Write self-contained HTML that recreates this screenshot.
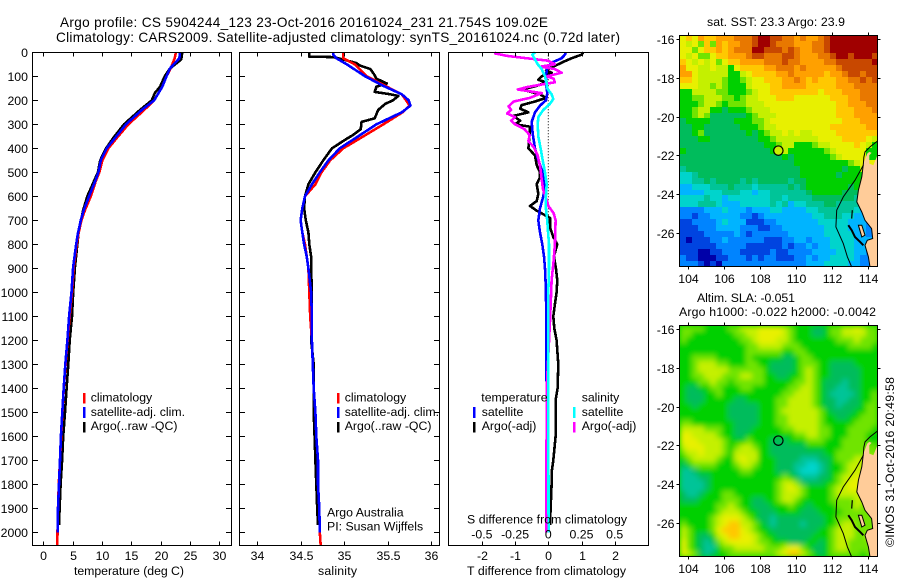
<!DOCTYPE html>
<html lang="en">
<head>
<meta charset="utf-8">
<title>Argo profile 5904244</title>
<style>
html,body{margin:0;padding:0;background:#fff;width:900px;height:580px;overflow:hidden}
svg{display:block}
text{font-family:"Liberation Sans",sans-serif;font-size:12.3px;fill:#000}
.t{font-size:13.6px}
</style>
</head>
<body>
<svg id="chart" xmlns="http://www.w3.org/2000/svg" width="900" height="580" viewBox="0 0 900 580">
<defs>
<filter id="smooth" x="-5%" y="-5%" width="110%" height="110%"><feGaussianBlur stdDeviation="2.6"/></filter>
<clipPath id="slaClip"><rect x="679.5" y="325.5" width="198" height="231"/></clipPath>
</defs>
<rect x="0" y="0" width="900" height="580" fill="#fff"/>
<text class="t" x="60" y="27" textLength="488" lengthAdjust="spacing">Argo profile: CS 5904244_123 23-Oct-2016 20161024_231 21.754S 109.02E</text>
<text class="t" x="56" y="42" textLength="564" lengthAdjust="spacing">Climatology: CARS2009. Satellite-adjusted climatology: synTS_20161024.nc (0.72d later)</text>

<g id="p1"></g>
<g id="p2"></g>
<g id="p3"></g>
<g id="m1"></g>
<g id="m2"></g>

<text x="74" y="575" textLength="110" lengthAdjust="spacing">temperature (deg C)</text>
<text x="318" y="575" textLength="39" lengthAdjust="spacing">salinity</text>
<text x="467" y="575" textLength="159" lengthAdjust="spacing">T difference from climatology</text>
<text x="467" y="523.5" textLength="160" lengthAdjust="spacing">S difference from climatology</text>

<g>
<rect x="83" y="393" width="2.5" height="10.5" fill="#f00"/>
<rect x="83" y="407" width="2.5" height="11" fill="#00f"/>
<rect x="83" y="422" width="2.5" height="10.5" fill="#000"/>
<text x="90.7" y="401.7">climatology</text>
<text x="90.7" y="416">satellite-adj. clim.</text>
<text x="90.7" y="430.2">Argo(..raw -QC)</text>
</g>
<g>
<rect x="337" y="393" width="2.5" height="10.5" fill="#f00"/>
<rect x="337" y="407" width="2.5" height="11" fill="#00f"/>
<rect x="337" y="422" width="2.5" height="10.5" fill="#000"/>
<text x="344.7" y="401.7">climatology</text>
<text x="344.7" y="416">satellite-adj. clim.</text>
<text x="344.7" y="430.2">Argo(..raw -QC)</text>
<text x="327" y="516.7">Argo Australia</text>
<text x="327" y="530.7">PI: Susan Wijffels</text>
</g>
<g>
<text x="481.3" y="401.7">temperature</text>
<rect x="473" y="407" width="2.5" height="11" fill="#00f"/>
<rect x="473" y="422" width="2.5" height="10.5" fill="#000"/>
<text x="481.7" y="416">satellite</text>
<text x="481.7" y="430.2">Argo(-adj)</text>
<text x="581.7" y="401.7">salinity</text>
<rect x="573" y="407" width="2.5" height="11" fill="#0ff"/>
<rect x="573" y="422" width="2.5" height="10.5" fill="#f0f"/>
<text x="581.7" y="416">satellite</text>
<text x="581.7" y="430.2">Argo(-adj)</text>
</g>

<text x="707" y="26" textLength="138" lengthAdjust="spacing">sat. SST: 23.3 Argo: 23.9</text>
<text x="697" y="302" textLength="98" lengthAdjust="spacing">Altim. SLA: -0.051</text>
<text x="679" y="316" textLength="197" lengthAdjust="spacing">Argo h1000: -0.022 h2000: -0.0042</text>
<text transform="translate(894,547) rotate(-90)" textLength="170" lengthAdjust="spacing">©IMOS 31-Oct-2016 20:49:58</text>
</svg>

<script>
// ---- profile data ----
const depthTicks = [0,100,200,300,400,500,600,700,800,900,1000,1100,1200,1300,1400,1500,1600,1700,1800,1900,2000];
const tempTicks = [0,5,10,15,20,25,30];
const salTicks = [34,34.5,35,35.5,36];
const tDiffTicks = [-2,-1,0,1,2];
const sDiffTicks = [-0.5,-0.25,0,0.25,0.5];
const sDiffTickLabels = ['-0.5','-0.25','0','0.25','0.5'];

const climDepth = [0,25,67,100,143,200,240,300,358,400,450,500,540,600,657,700,755,800,893,1000,1100,1200,1300,1400,1500,1600,1700,1800,1900,2000,2055];
const climTemp = [22.6,22.4,21.7,21,20.3,18.9,17.2,14.5,12.5,11.1,10.05,9.55,8.9,8.1,7.1,6.5,6.0,5.7,5.2,4.9,4.5,4.15,3.8,3.5,3.25,3.05,2.85,2.65,2.5,2.42,2.38];
const satTemp = [23.3,23.2,21.6,21,20.3,18.9,16.8,14.1,12.2,10.8,9.8,9.4,8.8,7.8,6.9,6.4,5.9,5.6,5.1,4.8,4.4,4.1,3.75,3.47,3.24,3.0,2.85,2.67,2.5,2.44];
const argoTempDepth = [0,30,67,100,143,170,200,240,300,358,400,450,500,600,657,755,893,1000,1100,1200,1300,1400,1500,1600,1700,1800,1900,1970];
const argoTemp = [23.7,23.5,21.6,20.7,19.9,19.0,18.5,16.5,13.75,11.9,10.7,9.7,9.3,7.5,6.8,6,5.4,5.1,4.9,4.5,4.26,3.97,3.7,3.4,3.2,2.95,2.78,2.67];

const salDepth = [0,10,25,50,100,140,175,200,222,250,300,350,400,450,500,550,600,650,700,750,800,850,900,1000,1100,1200,1300,1400,1500,1600,1700,1800,1900,2000,2055];
const climSal = [34.99,34.99,34.99,35.12,35.26,35.47,35.66,35.71,35.75,35.67,35.45,35.22,34.99,34.84,34.74,34.67,34.55,34.52,34.5,34.52,34.55,34.57,34.59,34.6,34.61,34.63,34.64,34.65,34.67,34.68,34.7,34.7,34.715,34.72,34.73];
const satSal = [34.876,34.876,34.91,35.03,35.24,35.45,35.66,35.74,35.76,35.66,35.37,35.16,34.95,34.82,34.72,34.63,34.55,34.52,34.5,34.52,34.54,34.57,34.59,34.62,34.63,34.63,34.64,34.65,34.67,34.68,34.7,34.7,34.715,34.72];
const argoSalDepth = [0,18,20,30,45,55,70,90,110,130,143,165,175,182,200,215,240,275,290,320,345,360,400,450,500,550,600,650,700,750,800,850,900,1000,1100,1200,1300,1400,1500,1600,1700,1800,1900,1970];
const argoSal = [34.6,34.6,34.876,34.99,35.14,35.18,35.3,35.34,35.37,35.49,35.37,35.35,35.53,35.62,35.56,35.47,35.39,35.35,35.2,35.19,35.1,35.03,34.86,34.76,34.67,34.59,34.55,34.54,34.56,34.59,34.6,34.62,34.62,34.63,34.63,34.62,34.65,34.65,34.65,34.66,34.67,34.68,34.69,34.7];

const argoTDiffDepth = [0,10,25,40,60,75,85,100,115,125,140,155,175,190,205,220,235,250,265,285,300,310,330,350,400,430,470,500,520,550,590,620,640,660,690,730,770,800,850,900,950,1000,1050,1100,1150,1200,1300,1400,1450,1500,1600,1700,1750,1800,1900,1970];
const argoTDiff = [1.05,1.0,.7,.45,.15,-.07,.1,-.2,-.3,-.05,-.35,-.8,-.25,-.07,-.4,-.8,-.85,-.6,-1.05,-.85,-1,-.55,-.55,-.57,-.6,-.4,-.35,-.25,-.25,-.35,-.3,-.35,-.55,-.35,.05,.05,.15,.27,.17,.23,.27,.25,.2,.15,.18,.25,.3,.28,.22,.22,.22,.15,.1,.1,.07,.05];
const satTDiffDepth = [0,10,25,40,60,100,130,170,200,222,250,290,340,400,450,500,550,600,650,700,750,800,850,900,1000,1400,2000];
const satTDiff = [.53,.5,.4,.15,-.03,-.07,-.07,-.03,-.07,-.25,-.4,-.5,-.47,-.4,-.3,-.17,-.1,-.15,-.25,-.3,-.25,-.18,-.13,-.1,-.07,-.05,-.05];
const argoSDiffDepth = [0,5,15,25,35,50,60,70,85,100,110,125,135,145,155,170,190,205,225,240,255,270,285,300,320,345,370,395,430,480,530,570,620,640,670,700,800,870,950,1050,1120,1400,2000];
const argoSDiff = [-.39,-.4,-.31,-.16,0,.05,-.06,.05,.1,-.01,.04,.05,-.06,-.16,-.23,-.05,-.14,-.26,-.3,-.28,-.31,-.25,-.28,-.25,-.18,-.14,-.15,-.11,-.08,-.06,-.05,-.04,-.01,0,.04,.055,.05,.04,.025,.018,.013,-.012,-.015];
const satSDiffDepth = [0,10,30,50,70,100,130,150,175,195,215,240,270,300,350,400,450,500,550,600,650,700,800,900,1000,1200,1500,2000];
const satSDiff = [-.1,-.12,-.1,-.08,-.05,-.025,-.012,-.008,.025,.038,.012,-.038,-.075,-.08,-.075,-.058,-.042,-.025,-.012,-.018,-.018,-.008,.005,.005,0,0,0,.002];

// ---- map data ----
const lonTicks = [104,106,108,110,112,114];
const latTicks = [-16,-18,-20,-22,-24,-26];
const argoLon = 109.02;
const argoLat = -21.754;

// colour class of each grid cell, north to south
const sstGrid = [
[10,11,10,12,11,11,12,12,12,13,13,13,14,15,15,14,14,13,13,12,13,12,12,13,14,15,15,15,15,15,15,15,15],
[10,9,10,8,11,8,12,11,12,12,13,13,14,15,15,14,13,13,13,12,12,12,13,13,14,15,15,15,15,15,15,15,15],
[10,10,8,10,11,11,12,11,12,13,13,13,15,15,14,14,14,13,14,13,12,12,13,13,14,15,15,15,15,15,15,15,15],
[10,9,10,8,8,10,11,11,12,12,12,13,14,14,13,13,13,14,14,13,12,12,12,13,13,14,15,15,14,15,15,15,14],
[11,10,9,10,9,10,8,10,11,11,12,12,12,12,13,13,13,14,13,13,12,12,12,12,13,13,14,14,14,14,14,14,15],
[12,10,10,9,9,10,9,9,7,10,11,11,11,11,12,12,13,13,13,12,13,12,12,12,12,12,13,14,14,14,14,14,14],
[12,12,10,9,9,9,9,9,7,7,9,10,11,11,11,11,12,12,13,12,12,12,12,12,11,12,12,13,14,14,13,14,14],
[11,11,10,9,9,9,9,8,7,7,8,9,10,10,11,11,11,12,12,13,12,11,12,11,11,11,12,12,13,13,14,13,14],
[10,10,10,9,9,8,9,8,7,7,7,9,10,10,10,11,11,12,12,12,12,11,11,11,11,11,12,12,12,13,13,13,13],
[7,7,9,9,9,9,8,8,7,7,7,8,9,10,10,11,11,11,11,11,11,11,11,10,11,11,11,12,12,12,13,13,13],
[7,7,8,8,9,9,9,8,8,7,8,9,9,10,10,10,11,11,11,10,10,10,10,10,10,11,11,11,12,12,13,13,13],
[7,7,7,8,9,9,8,7,8,8,8,9,9,9,10,10,10,10,10,10,10,10,10,10,10,10,11,11,12,12,12,13,13],
[7,7,8,9,9,7,7,6,7,7,7,8,9,9,9,10,10,10,10,10,10,10,10,10,10,10,11,11,11,12,12,12,13],
[7,7,8,9,8,6,6,6,6,6,6,7,8,9,9,9,10,10,10,10,10,10,10,10,10,10,11,11,11,12,12,12,12],
[6,7,7,7,7,6,6,6,6,7,7,7,8,8,9,10,10,10,10,10,10,10,10,10,10,10,10,11,11,11,12,12,12],
[6,6,7,7,6,6,6,6,6,6,7,7,7,8,9,9,10,10,10,10,10,10,10,10,10,11,11,11,11,11,11,12,12],
[6,6,7,8,6,6,6,6,6,6,6,7,6,7,8,9,9,10,9,10,9,9,10,10,10,10,11,11,11,11,11,11,11],
[6,6,6,7,7,6,6,6,6,6,6,6,6,7,7,8,9,9,9,9,9,9,9,10,10,10,10,11,11,11,11,10,9],
[6,6,6,6,6,6,6,6,6,6,6,6,6,6,7,7,8,9,9,7,7,7,8,9,9,10,10,10,10,11,10,9,7],
[7,6,6,6,6,6,6,6,6,6,6,6,6,6,6,7,8,9,7,7,7,7,7,7,8,9,10,10,10,10,10,7,7],
[6,6,6,6,6,6,6,6,6,6,6,6,6,6,6,6,6,7,6,7,7,7,7,7,7,8,9,10,10,10,10,7,7],
[6,6,6,6,6,6,6,6,6,6,6,6,6,6,6,6,6,6,6,7,7,7,7,7,7,7,7,7,8,9,10,10,10],
[5,6,6,6,6,6,6,6,6,6,6,6,6,6,6,6,6,6,6,6,7,7,7,7,7,7,7,6,7,7,9,10,10],
[4,4,5,6,6,6,6,6,6,6,6,6,6,6,6,6,6,6,6,6,7,7,7,7,7,7,6,7,7,7,7,7,7],
[4,4,5,5,6,5,6,6,6,6,5,6,5,6,6,6,6,6,5,6,6,7,7,7,7,7,7,7,7,7,7,7,7],
[3,3,4,4,4,5,5,5,6,5,5,5,4,5,5,5,5,5,6,5,6,7,7,7,7,7,7,7,6,7,7,7,7],
[3,3,3,3,4,4,4,5,5,5,4,4,3,4,4,5,5,5,5,5,5,6,7,7,7,7,7,6,6,6,6,6,6],
[4,4,4,4,5,4,4,3,4,4,4,4,4,4,4,5,5,4,5,5,5,5,6,6,6,6,6,6,6,5,6,6,6],
[4,4,4,5,5,5,4,3,3,3,4,4,4,4,4,5,4,5,3,4,4,5,5,5,6,6,5,5,5,5,5,5,5],
[2,2,2,2,3,3,3,4,3,3,3,2,3,3,3,4,4,3,3,3,3,4,4,5,5,5,5,5,5,4,3,4,4],
[2,2,1,2,2,3,3,3,3,3,2,2,1,2,3,3,3,3,3,3,3,3,4,4,5,5,5,4,4,3,3,3,3],
[1,1,2,2,2,2,3,4,3,3,3,1,1,1,2,2,3,3,3,3,3,3,3,4,4,4,4,4,3,3,3,2,2],
[1,1,1,2,2,2,3,3,3,3,2,2,2,1,1,2,2,3,3,3,3,3,3,3,4,4,4,4,3,3,3,2,1],
[1,1,1,1,2,2,2,2,2,3,2,1,2,2,2,2,2,2,3,3,3,3,3,3,4,4,4,4,4,3,3,2,2],
[1,0,1,1,1,2,2,3,2,2,2,2,2,2,1,1,1,2,2,3,3,2,3,3,3,4,4,4,4,3,3,3,3],
[1,1,1,1,1,1,2,2,2,2,2,1,1,1,1,1,1,2,1,2,2,3,2,3,3,4,4,4,4,3,3,3,3],
[1,1,1,0,0,1,1,2,2,2,1,1,1,1,1,2,1,1,2,2,2,2,3,3,3,3,4,4,4,3,3,2,2],
[2,1,1,0,0,0,1,1,2,2,2,1,2,1,2,2,1,1,1,2,2,3,2,3,3,4,4,4,4,3,2,2,2],
[2,2,2,1,0,1,0,2,2,2,2,2,2,2,2,2,2,2,2,2,2,3,3,3,4,4,4,4,3,3,2,2,1]
];
const slaGrid = [
[8,8,8,8,7,7,7,7,8,8,9,9,9,10,10,10,10,9,8,7,7,7,6,6,7,8,8,9,9,10,9,8,8],
[8,8,7,7,7,7,7,7,7,8,8,9,9,10,10,10,10,9,8,7,7,7,6,6,7,8,8,9,9,9,9,8,8],
[8,7,7,7,7,7,7,7,7,7,8,8,9,10,10,10,9,9,8,7,7,7,7,7,7,7,8,8,8,9,8,8,8],
[7,7,7,7,7,7,7,7,7,7,7,8,8,9,9,9,9,8,8,8,7,7,7,7,7,7,7,7,8,8,8,8,7],
[7,7,7,7,7,7,7,7,7,7,7,8,8,8,8,8,8,7,7,8,8,7,7,7,7,7,7,7,7,7,7,7,7],
[7,7,8,8,8,8,7,7,7,7,7,8,7,7,7,7,7,6,6,7,8,8,7,7,7,7,7,7,7,7,7,7,7],
[7,7,8,9,9,9,8,8,7,7,7,8,8,7,7,6,6,6,6,7,8,8,8,7,7,6,6,6,6,7,7,7,7],
[7,7,8,9,9,9,9,9,8,8,8,8,8,8,7,6,6,6,6,7,8,9,8,7,7,6,6,6,6,6,7,7,7],
[7,7,8,8,9,9,9,8,8,8,9,9,8,8,7,7,6,6,7,7,8,9,8,7,7,6,6,6,6,6,7,7,7],
[7,7,7,8,8,9,8,8,7,8,8,8,8,8,7,7,7,7,7,8,8,9,8,7,6,6,6,5,6,6,7,7,7],
[7,6,6,7,7,8,8,7,7,7,8,8,7,7,7,7,7,7,8,8,9,9,8,7,6,6,5,5,6,6,7,7,7],
[7,6,6,6,7,7,8,7,7,7,7,7,7,7,7,7,7,8,8,9,9,9,8,7,6,5,5,5,5,6,7,7,8],
[7,6,6,6,7,7,7,7,7,6,6,7,7,7,7,7,8,8,9,9,9,9,8,7,6,6,5,5,6,6,7,7,8],
[7,7,6,7,7,7,7,7,6,6,6,6,6,7,7,7,8,8,9,9,9,9,8,7,6,6,5,6,6,6,7,8,8],
[7,7,7,7,7,7,7,7,6,6,6,6,6,7,7,7,8,9,9,9,9,9,9,8,7,6,6,6,6,7,7,8,8],
[7,7,7,7,7,7,7,7,6,6,6,6,6,7,7,7,8,8,9,9,9,9,9,8,7,7,6,6,7,7,8,8,8],
[8,8,7,7,7,7,7,7,7,6,6,6,6,7,7,7,8,8,9,9,9,9,9,8,7,7,7,7,7,8,8,8,8],
[9,9,9,9,8,8,8,7,7,6,6,6,7,7,7,7,7,8,8,9,9,9,9,8,8,7,7,7,8,8,8,8,7],
[10,10,9,9,9,9,8,7,7,6,6,7,7,7,7,7,7,7,7,8,8,9,9,8,8,7,7,7,8,8,8,7,7],
[10,10,10,9,9,9,9,8,7,7,7,8,7,7,7,6,6,6,7,7,7,8,8,8,7,7,7,8,8,8,8,7,7],
[9,10,10,10,9,9,9,8,7,8,9,9,8,7,7,6,6,6,6,6,6,7,7,7,7,7,7,8,8,8,8,8,8],
[8,9,9,10,9,9,9,8,7,9,9,9,9,7,7,6,6,6,6,6,6,6,6,6,7,7,8,8,8,8,8,8,8],
[7,8,9,9,9,9,8,7,7,9,10,9,9,7,7,7,6,6,6,6,5,5,5,6,6,7,8,8,8,9,9,9,9],
[6,7,8,8,8,8,7,7,7,8,9,9,8,7,7,7,6,6,6,5,5,4,4,5,6,7,7,8,9,9,9,9,9],
[5,5,6,7,7,7,7,7,7,7,8,8,7,7,7,7,6,6,6,5,4,4,4,5,6,7,7,8,9,9,9,9,9],
[5,5,5,6,6,7,7,7,7,7,7,7,7,7,7,7,7,8,7,6,5,5,5,6,6,7,8,9,9,10,10,9,9],
[5,5,5,5,6,7,7,7,7,7,7,7,7,7,7,7,8,9,9,8,6,6,6,6,7,7,8,9,10,10,9,9,9],
[5,5,5,5,6,7,7,7,7,7,7,7,7,7,7,7,8,9,10,9,8,7,7,7,7,8,9,9,10,10,9,9,9],
[6,5,5,6,7,7,7,8,8,7,7,7,7,7,7,7,8,9,9,9,8,7,7,7,7,8,9,9,9,9,9,9,9],
[6,6,6,7,7,7,7,8,8,8,7,7,6,6,7,7,8,9,9,8,7,7,7,7,7,8,8,8,8,9,9,8,8],
[7,7,7,7,7,7,8,8,9,8,7,7,6,6,6,7,7,7,8,7,7,6,7,7,7,7,8,8,8,9,8,8,8],
[7,7,7,7,7,7,8,9,9,9,8,7,7,6,6,6,7,7,7,7,6,6,6,7,7,7,7,8,8,8,8,8,8],
[7,7,7,7,7,8,9,10,10,10,9,8,7,6,6,5,6,6,6,6,6,6,6,6,7,7,8,8,8,8,8,8,8],
[8,7,7,7,7,8,9,10,11,11,9,9,8,7,6,5,6,6,6,6,5,6,6,6,7,7,8,9,9,8,8,8,8],
[9,8,7,7,7,8,10,11,11,11,10,9,8,7,7,6,6,6,6,6,6,6,6,7,7,8,9,9,9,8,8,8,8],
[9,8,7,6,6,7,9,10,11,11,10,10,9,8,7,7,6,6,6,6,6,6,7,7,7,8,9,9,9,8,8,9,9],
[10,8,7,6,5,6,8,9,10,10,10,10,9,8,8,7,7,7,6,6,6,7,7,6,7,8,9,9,8,8,8,8,8],
[10,8,7,6,5,5,7,8,8,9,9,9,9,9,8,8,8,9,10,10,8,7,6,6,7,8,9,9,8,8,8,8,8],
[10,9,8,6,5,6,7,7,8,8,8,8,8,8,8,8,9,10,11,11,9,8,7,6,7,8,8,8,8,8,7,8,8]
];

// lon,lat outlines
const landOutline = [[113.98,-21.90],[114.09,-21.82],[114.22,-21.87],[114.09,-21.99],[114.09,-22.42],[114.32,-22.51],[114.50,-22.08],[114.56,-21.90],[114.56,-27.76],[114.13,-27.76],[114.04,-27.24],[113.85,-26.64],[113.98,-26.38],[114.28,-26.29],[114.22,-25.78],[113.85,-25.35],[113.67,-24.92],[113.39,-24.40],[113.48,-23.80],[113.67,-23.11],[113.76,-22.42]];
const peninsulaOutline = [[113.48,-25.6],[113.67,-25.6],[113.85,-26.12],[113.67,-26.21]];
const coastLine = [[114.56,-21.25],[114.13,-21.56],[113.85,-21.82],[113.78,-22.1],[113.76,-22.42],[113.67,-23.11],[113.48,-23.80],[113.39,-24.40],[113.67,-24.92],[113.85,-25.35],[114.22,-25.78],[114.28,-26.29],[113.98,-26.38],[113.85,-26.64],[114.04,-27.24],[114.13,-27.76]];
const isobathLine = [[113.76,-22.5],[113.29,-23.28],[112.64,-24.14],[112.27,-24.83],[112.23,-25.69],[112.64,-26.55],[112.87,-27.24],[113.11,-27.76]];
const islandLineA = [[113.14,-24.83],[113.11,-25.26]];
const islandLineB = [[112.92,-25.6],[113.11,-25.86],[113.29,-26.21],[113.57,-26.46],[113.76,-26.64]];

const levelColors = ['#0000a8','#0044e0','#0084ff','#00b4ff','#00d4cc','#00c498','#00bc5c','#00d000','#70e400','#c4f000','#e8f000','#ffc800','#ffa000','#e87800','#c84800','#a00000'];

// ---- axes ----
const NS = 'http://www.w3.org/2000/svg';
const depthY = d => 52.3 + 0.24 * d;
const tempX = v => 43.3 + 5.867 * v;
const salX = v => 257 + 87.2 * (v - 34);
const tDiffX = v => 548.3 + 33.2 * v;
const sDiffX = v => 548.3 + 132.8 * v;
const lonX = v => 688.3 + 17.94 * (v - 104);
const latY = (v, top) => top + 3.7 + 19.37 * (-16 - v);

function mk(tag, parent, attrs) {
  const el = document.createElementNS(NS, tag);
  for (const k in attrs) el.setAttribute(k, attrs[k]);
  parent.appendChild(el);
  return el;
}

function tick(parent, x1, y1, x2, y2) {
  const el = mk('line', parent, {x1: x1, y1: y1, x2: x2, y2: y2, stroke: '#000', 'stroke-width': 1, 'shape-rendering': 'crispEdges'});
  
  
}

function label(parent, x, y, anchor, str) {
  const el = mk('text', parent, {x: x, y: y, 'text-anchor': anchor});
  el.textContent = str;
  
  
}

function frame(parent, x0, x1, y0, y1) {
  const el = mk('rect', parent, {x: x0, y: y0, width: x1 - x0, height: y1 - y0, fill: 'none', stroke: '#000', 'stroke-width': 1, 'shape-rendering': 'crispEdges'});
  
  
}

function series(parent, name, xFn, depths, values, color, width) {
  const n = Math.min(depths.length, values.length);
  const pts = [];
  for (let i = 0; i < n; i++) pts.push(xFn(values[i]).toFixed(1) + ',' + depthY(depths[i]).toFixed(1));
  const el = mk('polyline', parent, {points: pts.join(' '), fill: 'none', stroke: color, 'stroke-width': width, 'stroke-linejoin': 'round', 'shape-rendering': 'crispEdges'});
  
  
}

const plotTop = 52.5, plotBottom = 545.5;

// ---- temperature panel ----
const p1 = document.getElementById('p1');
series(p1, 'argo-temperature-line', tempX, argoTempDepth, argoTemp, '#000', 2.6);
series(p1, 'climatology-temperature-line', tempX, climDepth, climTemp, '#f00', 2.6);
series(p1, 'satellite-temperature-line', tempX, climDepth, satTemp, '#00f', 2.6);
frame(p1, 32.5, 231.5, plotTop, plotBottom);
depthTicks.forEach(d => {
  const y = Math.round(depthY(d)) + 0.5;
  tick(p1, 32.5, y, 38, y);
  tick(p1, 226, y, 231.5, y);
  label(p1, 28, y + 4.3, 'end', String(d));
});
tempTicks.forEach(v => {
  const x = Math.round(tempX(v)) + 0.5;
  tick(p1, x, plotTop, x, plotTop + 4);
  tick(p1, x, plotBottom - 4, x, plotBottom);
  label(p1, x, 560, 'middle', String(v));
});

// ---- salinity panel ----
const p2 = document.getElementById('p2');
series(p2, 'argo-salinity-line', salX, argoSalDepth, argoSal, '#000', 2.6);
series(p2, 'climatology-salinity-line', salX, salDepth, climSal, '#f00', 2.6);
series(p2, 'satellite-salinity-line', salX, salDepth, satSal, '#00f', 2.6);
frame(p2, 239.5, 439.5, plotTop, plotBottom);
depthTicks.forEach(d => {
  const y = Math.round(depthY(d)) + 0.5;
  tick(p2, 239.5, y, 245, y);
  tick(p2, 434, y, 439.5, y);
});
salTicks.forEach(v => {
  const x = Math.round(salX(v)) + 0.5;
  tick(p2, x, plotTop, x, plotTop + 4);
  tick(p2, x, plotBottom - 4, x, plotBottom);
  label(p2, x, 560, 'middle', String(v));
});

// ---- difference panel ----
const p3 = document.getElementById('p3');
const zeroLine = mk('line', p3, {x1: tDiffX(0), y1: depthY(0), x2: tDiffX(0), y2: depthY(2000), stroke: '#000', 'stroke-width': 1, 'stroke-dasharray': '1 2'});


series(p3, 'argo-t-difference-line', tDiffX, argoTDiffDepth, argoTDiff, '#000', 2.6);
series(p3, 'satellite-t-difference-line', tDiffX, satTDiffDepth, satTDiff, '#00f', 2.6);
series(p3, 'argo-s-difference-line', sDiffX, argoSDiffDepth, argoSDiff, '#f0f', 2.6);
series(p3, 'satellite-s-difference-line', sDiffX, satSDiffDepth, satSDiff, '#0ff', 2.6);
frame(p3, 448.5, 648.5, plotTop, plotBottom);
tDiffTicks.forEach(v => {
  const x = Math.round(tDiffX(v)) + 0.5;
  tick(p3, x, plotTop, x, plotTop + 4);
  tick(p3, x, plotBottom - 4, x, plotBottom);
  label(p3, x, 560, 'middle', String(v));
});
sDiffTicks.forEach((v, i) => {
  label(p3, sDiffX(v), 538.7, 'middle', sDiffTickLabels[i]);
});

// ---- maps ----
function pathOf(list, top) {
  return list.map(p => lonX(p[0]).toFixed(1) + ',' + latY(p[1], top).toFixed(1)).join(' ');
}

function drawMap(g, grid, top, bottom, markerFill, smooth) {
  const left = 679.5, right = 877.5;
  const rows = grid.length;
  const cw = (right - left) / grid[0].length;
  const ch = (bottom - top) / rows;
  let cellParent = g;
  if (smooth) {
    const clipGroup = mk('g', g, {'clip-path': 'url(#slaClip)'});
    
    
    const backing = mk('rect', clipGroup, {x: left, y: top, width: right - left, height: bottom - top, fill: levelColors[7]});
    
    
    cellParent = mk('g', clipGroup, {filter: 'url(#smooth)'});
    
    
  }
  grid.forEach((row, r) => {
    row.forEach((val, c) => {
      const x0 = Math.round(left + c * cw), x1 = Math.round(left + (c + 1) * cw);
      const y0 = Math.round(top + r * ch), y1 = Math.round(top + (r + 1) * ch);
      const cell = mk('rect', cellParent, {x: x0, y: y0, width: x1 - x0, height: y1 - y0, fill: levelColors[val], 'shape-rendering': 'crispEdges'});
      
      
    });
  });
  const land = mk('polygon', g, {points: pathOf(landOutline, top), fill: '#ffcc99'});
  
  
  const pen = mk('polygon', g, {points: pathOf(peninsulaOutline, top), fill: '#ffcc99', stroke: '#000', 'stroke-width': 1});
  
  
  const coast = mk('polyline', g, {points: pathOf(coastLine, top), fill: 'none', stroke: '#000', 'stroke-width': 1});
  
  
  const iso = mk('polyline', g, {points: pathOf(isobathLine, top), fill: 'none', stroke: '#000', 'stroke-width': 1});
  
  
  const isA = mk('polyline', g, {points: pathOf(islandLineA, top), fill: 'none', stroke: '#000', 'stroke-width': 1.2});
  
  
  const isB = mk('polyline', g, {points: pathOf(islandLineB, top), fill: 'none', stroke: '#000', 'stroke-width': 2});
  
  
  frame(g, left, right, top, bottom);
  lonTicks.forEach(v => {
    const x = Math.round(lonX(v)) + 0.5;
    tick(g, x, top - 3, x, top);
    tick(g, x, bottom, x, bottom + 3);
    label(g, x, bottom + 16.5, 'middle', String(v));
  });
  latTicks.forEach(v => {
    const y = Math.round(latY(v, top)) + 0.5;
    tick(g, left - 3, y, left, y);
    tick(g, right, y, right + 3, y);
    label(g, left - 5, y + 4.3, 'end', String(v));
  });
  const mark = mk('circle', g, {cx: lonX(argoLon), cy: latY(argoLat, top), r: 4.7, fill: markerFill, stroke: '#000', 'stroke-width': 1.2});
  
  
}

drawMap(document.getElementById('m1'), sstGrid, 35.5, 266.5, '#c8f000', false);
drawMap(document.getElementById('m2'), slaGrid, 325.5, 556.5, 'none', true);
</script>
</body>
</html>
